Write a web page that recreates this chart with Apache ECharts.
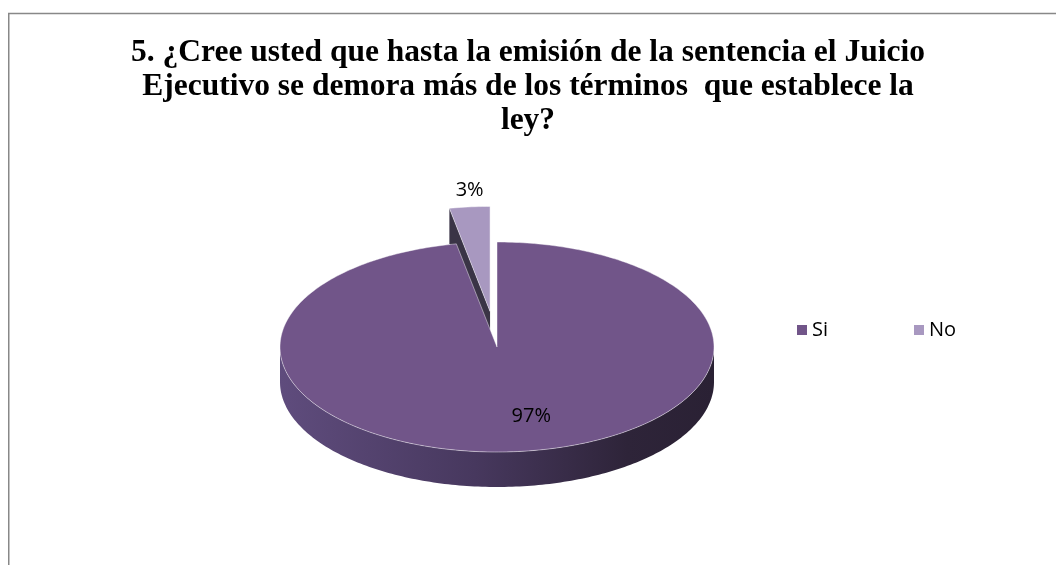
<!DOCTYPE html>
<html>
<head>
<meta charset="utf-8">
<script src="https://cdn.jsdelivr.net/npm/echarts@6/dist/echarts.min.js"></script>
<style>
html,body{margin:0;padding:0;background:#fff;}
#chart{width:1056px;height:565px;}
</style>
</head>
<body>
<div id="chart"></div>
<script>
// ---- data ----
const titleText = '5. ¿Cree usted que hasta la emisión de la sentencia el Juicio\nEjecutivo se demora más de los términos  que establece la\nley?';
const categories = ['Si', 'No'];
const values = [97, 3];
const exploded = [0, 1];

// ---- styles ----
const topColors = ['#715589', '#a898c0'];
const cutColors = ['#3b3148', '#3a3446'];
const sideStops = [
  [['#5f4c7d', 0], ['#47385e', 0.45], ['#2e2439', 0.8], ['#2a2134', 1]],
  [['#6f6287', 0], ['#4a405c', 1]]
];

const total = values.reduce((a, b) => a + b, 0);
const starts = values.map((v, i) => values.slice(0, i).reduce((a, b) => a + b, 0));

// layout
const CX = 497, CY = 347, RX = 217, RY = 105, DEPTH = 35, EXPLODE = 0.34;

function pt(theta, r, ox, oy, dz) {
  return [CX + ox + RX * r * Math.sin(theta), CY + oy - RY * r * Math.cos(theta) + (dz || 0)];
}

function arcPoints(a0, a1, ox, oy, dz) {
  const pts = [];
  const n = Math.max(2, Math.ceil((a1 - a0) / (Math.PI / 180)));
  for (let k = 0; k <= n; k++) {
    const t = a0 + (a1 - a0) * k / n;
    pts.push(pt(t, 1, ox, oy, dz));
  }
  return pts;
}

function makeRender(ci) {
  return function (params, api) {
    const value = api.value(0);
    const start = api.value(1);
    const a0 = start / total * Math.PI * 2;
    const a1 = (start + value) / total * Math.PI * 2;
    const mid = (a0 + a1) / 2;
    const ex = exploded[ci] ? EXPLODE : 0;
    const ox = RX * ex * Math.sin(mid);
    const oy = -RY * ex * Math.cos(mid);
    const children = [];
    const c = pt(0, 0, ox, oy, 0);
    const cB = pt(0, 0, ox, oy, DEPTH);

    // radial cut faces
    if (Math.sin(a0) < -1e-6) {
      const p = pt(a0, 1, ox, oy, 0), pB = pt(a0, 1, ox, oy, DEPTH);
      children.push({type: 'polygon', shape: {points: [c, p, pB, cB]},
        style: {fill: cutColors[ci]}});
    }
    if (Math.sin(a1) > 1e-6) {
      const p = pt(a1, 1, ox, oy, 0), pB = pt(a1, 1, ox, oy, DEPTH);
      children.push({type: 'polygon', shape: {points: [c, p, pB, cB]},
        style: {fill: cutColors[ci]}});
    }
    // outer curved side (front half only)
    const s0 = Math.max(a0, Math.PI / 2), s1 = Math.min(a1, Math.PI * 3 / 2);
    if (s1 > s0) {
      const topArc = arcPoints(s0, s1, ox, oy, 0);
      const botArc = arcPoints(s0, s1, ox, oy, DEPTH).reverse();
      children.push({type: 'polygon', shape: {points: topArc.concat(botArc)},
        style: {fill: new echarts.graphic.LinearGradient(0, 0, 1, 0,
          sideStops[ci].map(s => ({offset: s[1], color: s[0]})))}});
    }
    // top face
    children.push({type: 'polygon',
      shape: {points: [c].concat(arcPoints(a0, a1, ox, oy, 0))},
      style: {fill: topColors[ci], stroke: 'rgba(255,255,255,0.55)', lineWidth: 0.8}});
    // label
    const pct = Math.round(value / total * 100) + '%';
    let lp;
    if (exploded[ci]) {
      lp = pt(mid, 1, ox, oy, 0);
      lp = [lp[0], lp[1] - 17];
    } else {
      lp = pt(mid, 0.7, ox, oy, 0);
      lp = [lp[0] + 20, lp[1] - 4];
    }
    children.push({type: 'text', x: lp[0], y: lp[1],
      style: {text: pct, fill: '#000', font: '20px "Open Sans", sans-serif',
        align: 'center', verticalAlign: 'middle'}});
    return {type: 'group', children: children};
  };
}

// series: back slice (No) drawn first, front slice (Si) last
const order = categories.map((_, i) => i).sort((a, b) => exploded[b] - exploded[a]);
const series = order.map(i => ({
  type: 'custom',
  name: categories[i],
  coordinateSystem: 'none',
  renderItem: makeRender(i),
  itemStyle: {color: topColors[i]},
  data: [[values[i], starts[i]]],
  silent: true
}));

const chart = echarts.init(document.getElementById('chart'), null, {renderer: 'canvas'});
chart.setOption({
  animation: false,
  backgroundColor: '#ffffff',
  title: {
    text: titleText,
    left: 'center',
    top: 31,
    textStyle: {fontFamily: '"Liberation Serif", serif', fontWeight: 'bold', fontSize: 31.5,
      lineHeight: 34, color: '#000'}
  },
  legend: {
    data: categories,
    left: 792,
    top: 315,
    itemWidth: 10,
    itemHeight: 10,
    itemGap: 86,
    icon: 'rect',
    textStyle: {fontFamily: '"Open Sans", sans-serif', fontSize: 20, color: '#000'}
  },
  graphic: [{
    type: 'rect', silent: true,
    shape: {x: 8.75, y: 13.5, width: 1200, height: 700},
    style: {fill: 'none', stroke: '#888', lineWidth: 1.5}
  }],
  series: series
});
</script>
</body>
</html>
